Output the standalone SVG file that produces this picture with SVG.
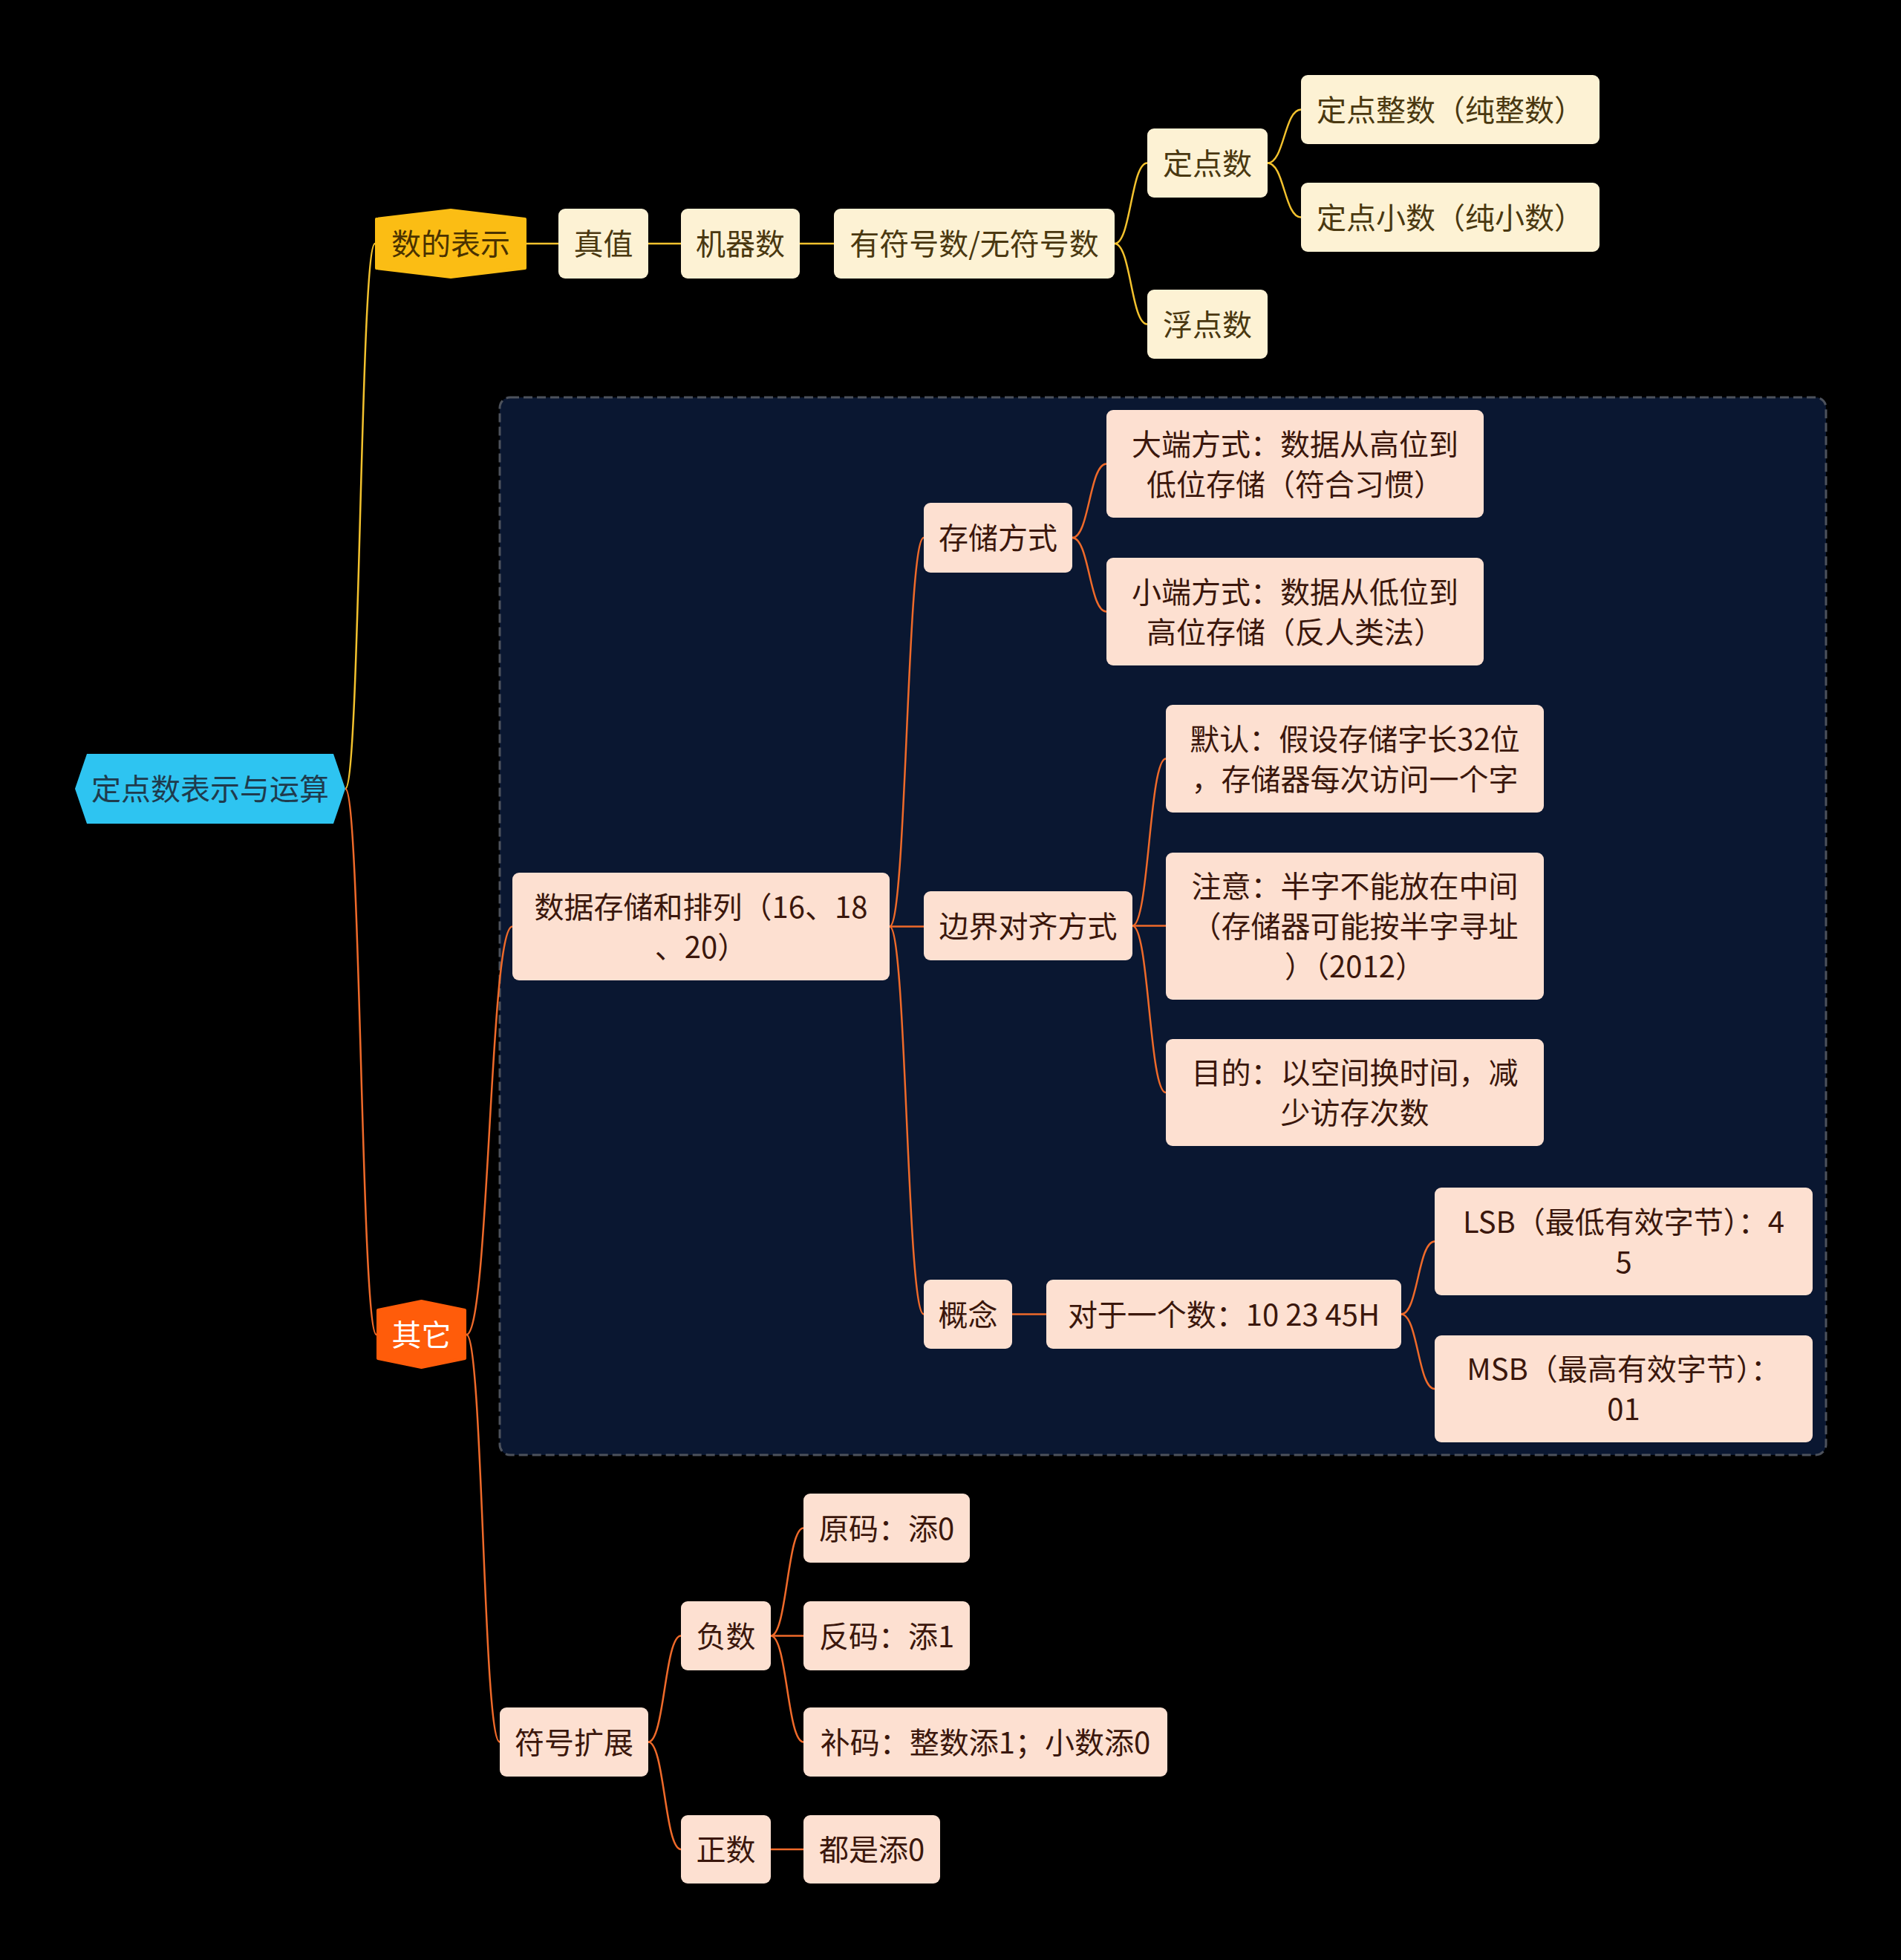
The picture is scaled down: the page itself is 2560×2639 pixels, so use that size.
<svg xmlns="http://www.w3.org/2000/svg" width="2560" height="2639" viewBox="0 0 2560 2639">
<style>
text{font-family:"Noto Sans CJK SC","Noto Sans",sans-serif;font-size:40px;text-anchor:middle;dominant-baseline:central}
.cream rect{fill:#fdf2d4}
.cream text{fill:#4a3810}
.peach rect{fill:#fde0d1}
.peach text{fill:#3b170c}
.y{fill:none;stroke:#f3c22e;stroke-width:2.5}
.o{fill:none;stroke:#ef6a2a;stroke-width:2.5}
</style>
<rect width="2560" height="2639" fill="#000"/>
<rect x="673" y="535" width="1786" height="1424" rx="14" fill="#0a1731" stroke="#4d525c" stroke-width="3" stroke-dasharray="12 6"/>
<g id="connectors">
<path class="y" d="M465,1062 C485,1062 485,328 505,328"/>
<path class="y" d="M709,328 L752,328"/>
<path class="y" d="M873,328 L917,328"/>
<path class="y" d="M1077,328 L1123,328"/>
<path class="y" d="M1501,328 C1523,328 1523,219.5 1545,219.5"/>
<path class="y" d="M1501,328 C1523,328 1523,436.5 1545,436.5"/>
<path class="y" d="M1707,219.5 C1729.5,219.5 1729.5,147.5 1752,147.5"/>
<path class="y" d="M1707,219.5 C1729.5,219.5 1729.5,292.5 1752,292.5"/>
<path class="o" d="M465,1062 C486,1062 486,1797 507,1797"/>
<path class="o" d="M628,1797 C659,1797 659,1247.5 690,1247.5"/>
<path class="o" d="M628,1797 C650.5,1797 650.5,2345.5 673,2345.5"/>
<path class="o" d="M1198,1247.5 C1221,1247.5 1221,724 1244,724"/>
<path class="o" d="M1198,1247.5 L1244,1247.5"/>
<path class="o" d="M1198,1247.5 C1221,1247.5 1221,1769.5 1244,1769.5"/>
<path class="o" d="M1444,724 C1467,724 1467,624.5 1490,624.5"/>
<path class="o" d="M1444,724 C1467,724 1467,823.5 1490,823.5"/>
<path class="o" d="M1525,1246.5 C1547.5,1246.5 1547.5,1021.5 1570,1021.5"/>
<path class="o" d="M1525,1246.5 L1570,1246.5"/>
<path class="o" d="M1525,1246.5 C1547.5,1246.5 1547.5,1471 1570,1471"/>
<path class="o" d="M1363,1769.5 L1409,1769.5" stroke-width="3.5"/>
<path class="o" d="M1887,1769.5 C1909.5,1769.5 1909.5,1671.5 1932,1671.5"/>
<path class="o" d="M1887,1769.5 C1909.5,1769.5 1909.5,1870 1932,1870"/>
<path class="o" d="M873,2345.5 C895,2345.5 895,2202.5 917,2202.5"/>
<path class="o" d="M873,2345.5 C895,2345.5 895,2490 917,2490"/>
<path class="o" d="M1038,2202.5 C1060,2202.5 1060,2057.5 1082,2057.5"/>
<path class="o" d="M1038,2202.5 L1082,2202.5" stroke-width="3.5"/>
<path class="o" d="M1038,2202.5 C1060,2202.5 1060,2345.5 1082,2345.5"/>
<path class="o" d="M1038,2490 L1082,2490" stroke-width="3.5"/>
</g>
<g id="root"><polygon points="101,1062 117,1015 449,1015 465,1062 449,1109 117,1109" fill="#2ec4f1"/><text x="283" y="1060" fill="#1f3b4d">定点数表示与运算</text></g>
<g id="n-shu"><polygon points="507,295 607,283 707,295 707,361 607,373 507,361" fill="#fbbd14" stroke="#fbbd14" stroke-width="4" stroke-linejoin="round"/><text x="607" y="326" fill="#4a3200">数的表示</text></g>
<g id="n-zhenzhi" class="cream"><rect x="752" y="281" width="121" height="94" rx="9"/><text x="812.5" y="326">真值</text></g>
<g id="n-jiqi" class="cream"><rect x="917" y="281" width="160" height="94" rx="9"/><text x="997" y="326">机器数</text></g>
<g id="n-fuhao" class="cream"><rect x="1123" y="281" width="378" height="94" rx="9"/><text x="1312" y="326">有符号数/无符号数</text></g>
<g id="n-dingdian" class="cream"><rect x="1545" y="173" width="162" height="93" rx="9"/><text x="1626" y="217.5">定点数</text></g>
<g id="n-fudian" class="cream"><rect x="1545" y="390" width="162" height="93" rx="9"/><text x="1626" y="434.5">浮点数</text></g>
<g id="n-zhengshu" class="cream"><rect x="1752" y="101" width="402" height="93" rx="9"/><text x="1953" y="145.5">定点整数（纯整数）</text></g>
<g id="n-xiaoshu" class="cream"><rect x="1752" y="246" width="402" height="93" rx="9"/><text x="1953" y="290.5">定点小数（纯小数）</text></g>
<g id="n-qita"><polygon points="509,1764 567.5,1752 626,1764 626,1829 567.5,1841 509,1829" fill="#ff5c0a" stroke="#ff5c0a" stroke-width="4" stroke-linejoin="round"/><text x="567.5" y="1795" fill="#ffffff">其它</text></g>
<g id="n-cunchu" class="peach"><rect x="690" y="1175" width="508" height="145" rx="9"/><text x="944" y="1218.5">数据存储和排列（16、18</text><text x="944" y="1272.5">、20）</text></g>
<g id="n-fangshi" class="peach"><rect x="1244" y="677" width="200" height="94" rx="9"/><text x="1344" y="722">存储方式</text></g>
<g id="n-daduan" class="peach"><rect x="1490" y="552" width="508" height="145" rx="9"/><text x="1744" y="595.5">大端方式：数据从高位到</text><text x="1744" y="649.5">低位存储（符合习惯）</text></g>
<g id="n-xiaoduan" class="peach"><rect x="1490" y="751" width="508" height="145" rx="9"/><text x="1744" y="794.5">小端方式：数据从低位到</text><text x="1744" y="848.5">高位存储（反人类法）</text></g>
<g id="n-bianjie" class="peach"><rect x="1244" y="1200" width="281" height="93" rx="9"/><text x="1384.5" y="1244.5">边界对齐方式</text></g>
<g id="n-moren" class="peach"><rect x="1570" y="949" width="509" height="145" rx="9"/><text x="1824.5" y="992.5">默认：假设存储字长32位</text><text x="1824.5" y="1046.5">，存储器每次访问一个字</text></g>
<g id="n-zhuyi" class="peach"><rect x="1570" y="1148" width="509" height="198" rx="9"/><text x="1824.5" y="1191">注意：半字不能放在中间</text><text x="1824.5" y="1245">（存储器可能按半字寻址</text><text x="1824.5" y="1299">）（2012）</text></g>
<g id="n-mudi" class="peach"><rect x="1570" y="1399" width="509" height="144" rx="9"/><text x="1824.5" y="1442">目的：以空间换时间，减</text><text x="1824.5" y="1496">少访存次数</text></g>
<g id="n-gainian" class="peach"><rect x="1244" y="1723" width="119" height="93" rx="9"/><text x="1303.5" y="1767.5">概念</text></g>
<g id="n-duiyu" class="peach"><rect x="1409" y="1723" width="478" height="93" rx="9"/><text x="1648" y="1767.5">对于一个数：10 23 45H</text></g>
<g id="n-lsb" class="peach"><rect x="1932" y="1599" width="509" height="145" rx="9"/><text x="2186.5" y="1642.5">LSB（最低有效字节）：4</text><text x="2186.5" y="1696.5">5</text></g>
<g id="n-msb" class="peach"><rect x="1932" y="1798" width="509" height="144" rx="9"/><text x="2186.5" y="1841">MSB（最高有效字节）：</text><text x="2186.5" y="1895">01</text></g>
<g id="n-kuozhan" class="peach"><rect x="673" y="2299" width="200" height="93" rx="9"/><text x="773" y="2343.5">符号扩展</text></g>
<g id="n-fushu" class="peach"><rect x="917" y="2156" width="121" height="93" rx="9"/><text x="977.5" y="2200.5">负数</text></g>
<g id="n-zhengshu2" class="peach"><rect x="917" y="2444" width="121" height="92" rx="9"/><text x="977.5" y="2488">正数</text></g>
<g id="n-yuanma" class="peach"><rect x="1082" y="2011" width="224" height="93" rx="9"/><text x="1194" y="2055.5">原码：添0</text></g>
<g id="n-fanma" class="peach"><rect x="1082" y="2156" width="224" height="93" rx="9"/><text x="1194" y="2200.5">反码：添1</text></g>
<g id="n-buma" class="peach"><rect x="1082" y="2299" width="490" height="93" rx="9"/><text x="1327" y="2343.5">补码：整数添1；小数添0</text></g>
<g id="n-dou" class="peach"><rect x="1082" y="2444" width="184" height="92" rx="9"/><text x="1174" y="2488">都是添0</text></g>
</svg>
